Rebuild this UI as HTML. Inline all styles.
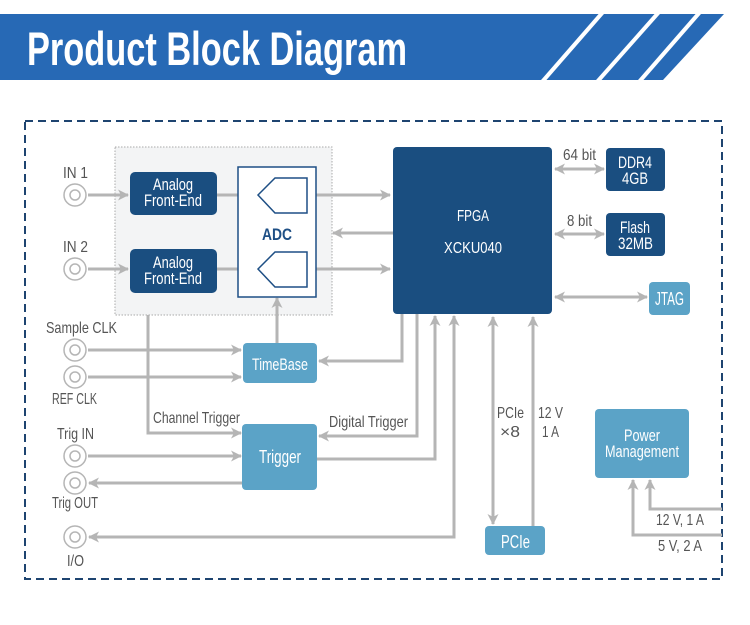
<!DOCTYPE html>
<html><head><meta charset="utf-8"><style>
html,body{margin:0;padding:0;background:#fff;}
svg{display:block;}
text{font-family:"Liberation Sans",sans-serif;}
</style></head><body>
<svg width="750" height="625" viewBox="0 0 750 625" xmlns="http://www.w3.org/2000/svg">
<defs>
<marker id="a" markerWidth="11" markerHeight="11" refX="10" refY="5.5" orient="auto-start-reverse" markerUnits="userSpaceOnUse">
<path d="M0,0 L11,5.5 L0,11 L3,5.5 Z" fill="#b5b5b5"/>
</marker>
</defs>
<polygon points="0,14 724,14 663,80 0,80" fill="#2769b5"/>
<g stroke="#fff" stroke-width="4">
<line x1="603" y1="12" x2="542" y2="82"/>
<line x1="659" y1="12" x2="597" y2="82"/>
<line x1="700" y1="12" x2="639" y2="82"/>
</g>
<text x="27" y="65" font-size="47" font-weight="bold" fill="#fff" textLength="380" lengthAdjust="spacingAndGlyphs">Product Block Diagram</text>

<rect x="25" y="121" width="697" height="458" fill="none" stroke="#1e4470" stroke-width="2" stroke-dasharray="8,5"/>
<rect x="115" y="147" width="217" height="168" fill="#f3f4f5" stroke="#aaa" stroke-width="1" stroke-dasharray="1.5,1.5"/>

<g fill="none" stroke="#b5b5b5" stroke-width="3">
<line x1="88" y1="195" x2="128" y2="195" marker-end="url(#a)"/>
<line x1="88" y1="269" x2="128" y2="269" marker-end="url(#a)"/>
<line x1="217" y1="195" x2="257" y2="195" marker-end="url(#a)"/>
<line x1="217" y1="269" x2="257" y2="269" marker-end="url(#a)"/>
<line x1="308" y1="195" x2="390" y2="195" marker-end="url(#a)"/>
<line x1="308" y1="269" x2="390" y2="269" marker-end="url(#a)"/>
<line x1="393" y1="233" x2="333" y2="233" marker-end="url(#a)"/>
<line x1="88" y1="350" x2="241" y2="350" marker-end="url(#a)"/>
<line x1="88" y1="377" x2="241" y2="377" marker-end="url(#a)"/>
<line x1="277" y1="343" x2="277" y2="298" marker-end="url(#a)"/>
<polyline points="402,314 402,361 319,361" marker-end="url(#a)"/>
<polyline points="148,315 148,433 241,433" marker-end="url(#a)"/>
<polyline points="417,314 417,436 319,436" marker-end="url(#a)"/>
<polyline points="317,459 435,459 435,316" marker-end="url(#a)"/>
<line x1="88" y1="456" x2="241" y2="456" marker-end="url(#a)"/>
<line x1="243" y1="483" x2="89" y2="483" marker-end="url(#a)"/>
<polyline points="454,316 454,537 89,537" marker-start="url(#a)" marker-end="url(#a)"/>
<line x1="555" y1="169" x2="604" y2="169" marker-start="url(#a)" marker-end="url(#a)"/>
<line x1="555" y1="234" x2="604" y2="234" marker-start="url(#a)" marker-end="url(#a)"/>
<line x1="555" y1="297" x2="647" y2="297" marker-start="url(#a)" marker-end="url(#a)"/>
<line x1="493" y1="317" x2="493" y2="524" marker-start="url(#a)" marker-end="url(#a)"/>
<line x1="533" y1="526" x2="533" y2="317" marker-end="url(#a)"/>
<polyline points="722,509 650,509 650,480" marker-end="url(#a)"/>
<polyline points="722,535 633,535 633,480" marker-end="url(#a)"/>
</g>

<g fill="#fff" stroke="#b5b5b5" stroke-width="1.5">
<circle cx="75" cy="195" r="11"/><circle cx="75" cy="195" r="5"/>
<circle cx="75" cy="269" r="11"/><circle cx="75" cy="269" r="5"/>
<circle cx="75" cy="350" r="11"/><circle cx="75" cy="350" r="5"/>
<circle cx="75" cy="377" r="11"/><circle cx="75" cy="377" r="5"/>
<circle cx="75" cy="456" r="11"/><circle cx="75" cy="456" r="5"/>
<circle cx="75" cy="483" r="11"/><circle cx="75" cy="483" r="5"/>
<circle cx="75" cy="537" r="11"/><circle cx="75" cy="537" r="5"/>
</g>

<rect x="238" y="167" width="78" height="130" fill="#fff" stroke="#1e4f85" stroke-width="1.5"/>
<g fill="#fff" stroke="#1e4f85" stroke-width="1.5">
<polygon points="258,195 275,178 307,178 307,213 275,213"/>
<polygon points="258,269 275,252 307,252 307,287 275,287"/>
</g>
<text x="262" y="240" font-size="17" font-weight="bold" fill="#1e4f85" textLength="30" lengthAdjust="spacingAndGlyphs">ADC</text>

<g fill="#1a4e80">
<rect x="130" y="172" width="87" height="43" rx="5"/>
<rect x="130" y="249" width="87" height="44" rx="5"/>
<rect x="393" y="147" width="159" height="167" rx="4"/>
<rect x="606" y="148" width="59" height="43" rx="4"/>
<rect x="606" y="213" width="59" height="43" rx="4"/>
</g>
<g fill="#5ba3c7">
<rect x="243" y="343" width="74" height="40" rx="4"/>
<rect x="242" y="424" width="75" height="66" rx="4"/>
<rect x="649" y="282" width="41" height="33" rx="4"/>
<rect x="485" y="526" width="60" height="29" rx="4"/>
<rect x="595" y="409" width="94" height="69" rx="4"/>
</g>

<g fill="#fff" font-size="17">
<text x="153" y="190" textLength="40" lengthAdjust="spacingAndGlyphs">Analog</text>
<text x="144" y="206" textLength="58" lengthAdjust="spacingAndGlyphs">Front-End</text>
<text x="153" y="268" textLength="40" lengthAdjust="spacingAndGlyphs">Analog</text>
<text x="144" y="284" textLength="58" lengthAdjust="spacingAndGlyphs">Front-End</text>
<text x="457" y="221" font-size="16" textLength="32" lengthAdjust="spacingAndGlyphs">FPGA</text>
<text x="444" y="253" font-size="16" textLength="58" lengthAdjust="spacingAndGlyphs">XCKU040</text>
<text x="618" y="168" textLength="34" lengthAdjust="spacingAndGlyphs">DDR4</text>
<text x="622" y="184" textLength="26" lengthAdjust="spacingAndGlyphs">4GB</text>
<text x="620" y="233" textLength="30" lengthAdjust="spacingAndGlyphs">Flash</text>
<text x="618" y="249" textLength="35" lengthAdjust="spacingAndGlyphs">32MB</text>
<text x="252" y="370" textLength="56" lengthAdjust="spacingAndGlyphs">TimeBase</text>
<text x="259" y="463" font-size="18" textLength="42" lengthAdjust="spacingAndGlyphs">Trigger</text>
<text x="655" y="305" font-size="18" textLength="29" lengthAdjust="spacingAndGlyphs">JTAG</text>
<text x="501" y="548" font-size="18" textLength="29" lengthAdjust="spacingAndGlyphs">PCIe</text>
<text x="624" y="441" textLength="36" lengthAdjust="spacingAndGlyphs">Power</text>
<text x="605" y="457" textLength="74" lengthAdjust="spacingAndGlyphs">Management</text>
</g>

<g fill="#555" font-size="16">
<text x="63" y="178" textLength="25" lengthAdjust="spacingAndGlyphs">IN 1</text>
<text x="63" y="252" textLength="25" lengthAdjust="spacingAndGlyphs">IN 2</text>
<text x="46" y="333" textLength="71" lengthAdjust="spacingAndGlyphs">Sample CLK</text>
<text x="52" y="404" textLength="45" lengthAdjust="spacingAndGlyphs">REF CLK</text>
<text x="57" y="439" textLength="37" lengthAdjust="spacingAndGlyphs">Trig IN</text>
<text x="52" y="508" textLength="46" lengthAdjust="spacingAndGlyphs">Trig OUT</text>
<text x="67" y="566" textLength="17" lengthAdjust="spacingAndGlyphs">I/O</text>
<text x="153" y="423" textLength="87" lengthAdjust="spacingAndGlyphs">Channel Trigger</text>
<text x="329" y="427" textLength="79" lengthAdjust="spacingAndGlyphs">Digital Trigger</text>
<text x="563" y="160" textLength="33" lengthAdjust="spacingAndGlyphs">64 bit</text>
<text x="567" y="226" textLength="25" lengthAdjust="spacingAndGlyphs">8 bit</text>
<text x="497" y="418" textLength="27" lengthAdjust="spacingAndGlyphs">PCIe</text>
<text x="500" y="437" textLength="20" lengthAdjust="spacingAndGlyphs">×8</text>
<text x="538" y="418" textLength="25" lengthAdjust="spacingAndGlyphs">12 V</text>
<text x="542" y="437" textLength="17" lengthAdjust="spacingAndGlyphs">1 A</text>
<text x="656" y="525" textLength="48" lengthAdjust="spacingAndGlyphs">12 V, 1 A</text>
<text x="658" y="551" textLength="44" lengthAdjust="spacingAndGlyphs">5 V, 2 A</text>
</g>
</svg>
</body></html>
